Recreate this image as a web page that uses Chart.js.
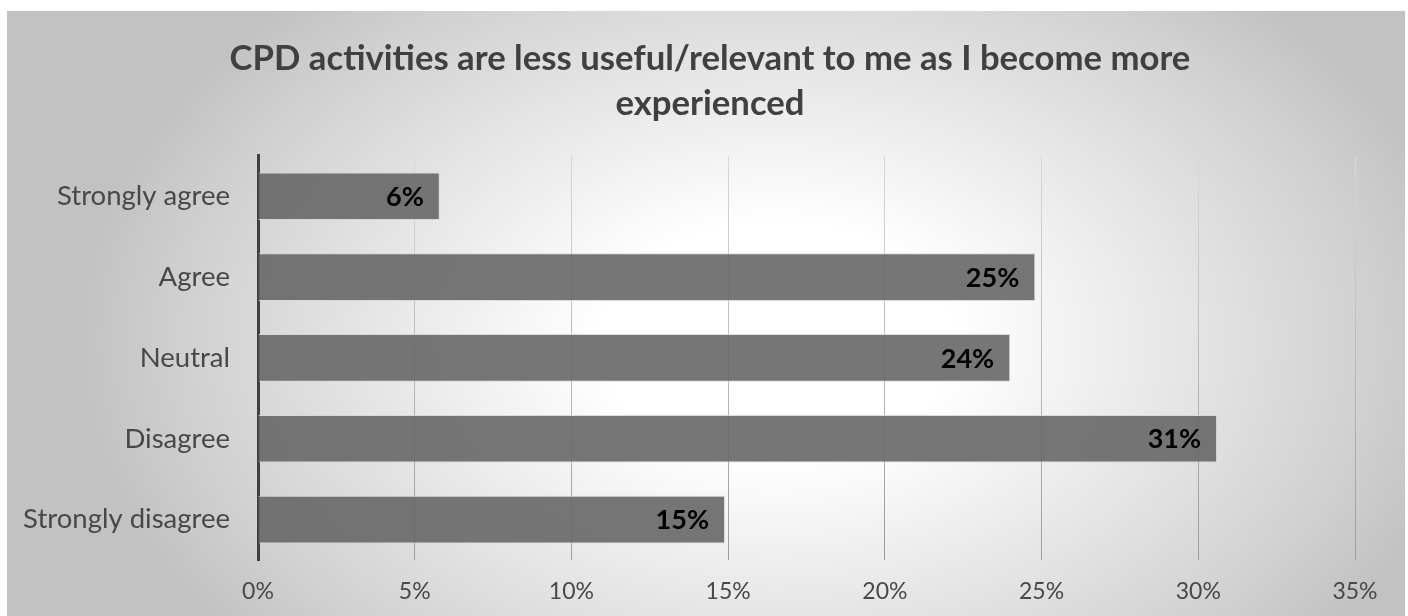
<!DOCTYPE html>
<html>
<head>
<meta charset="utf-8">
<title>CPD survey</title>
<script src="https://cdn.jsdelivr.net/npm/chart.js@4.4.0/dist/chart.umd.min.js"></script>
<style>
  html, body { margin: 0; padding: 0; background: #fff; }
  #wrap { position: absolute; left: 7px; top: 11px; width: 1398px; height: 605px; }
</style>
</head>
<body>
<div id="wrap"><canvas id="cpdChart"></canvas></div>
<script>
const categories = ['Strongly agree', 'Agree', 'Neutral', 'Disagree', 'Strongly disagree'];
const percentages = [5.8, 24.8, 24.0, 30.6, 14.9];
const tickValues = [0, 5, 10, 15, 20, 25, 30, 35];
const chartTitle = ['CPD activities are less useful/relevant to me as I become more', 'experienced'];

const FONT = 'Lato, "Open Sans", sans-serif';

// soft radial shading behind the whole chart
const backgroundShade = {
    id: 'backgroundShade',
    beforeDraw(chart) {
        const { ctx, width, height } = chart;
        const cx = 770, cy = 330, rx = 700, ry = 470;
        ctx.save();
        ctx.translate(cx, cy);
        ctx.scale(1, ry / rx);
        const g = ctx.createRadialGradient(0, 0, 0, 0, 0, rx);
        g.addColorStop(0, '#ffffff');
        g.addColorStop(0.25, '#ffffff');
        g.addColorStop(0.6, '#e4e4e4');
        g.addColorStop(0.85, '#d0d0d0');
        g.addColorStop(1, '#c2c2c2');
        ctx.fillStyle = g;
        ctx.fillRect(-cx, -cy * rx / ry, width, height * rx / ry);
        ctx.restore();
    }
};

// the title box stops at the right padding; widen it on the left so the text sits mid-chart
const titleCentre = {
    id: 'titleCentre',
    afterLayout(chart) {
        if (chart.titleBlock) chart.titleBlock.left = 58;
    }
};

// percentage written inside the end of each bar
const valueLabels = {
    id: 'valueLabels',
    afterDatasetsDraw(chart) {
        const { ctx } = chart;
        const meta = chart.getDatasetMeta(0);
        ctx.save();
        ctx.font = 'bold 27px ' + FONT;
        ctx.fillStyle = '#000';
        ctx.textAlign = 'right';
        ctx.textBaseline = 'middle';
        meta.data.forEach((bar, i) => {
            ctx.fillText(Math.round(percentages[i]) + '%', bar.x - 16, bar.y + 1);
        });
        ctx.restore();
    }
};

function gridShade(c) {
    const area = c.chart.chartArea;
    if (!area) return '#bbbbbb';
    const g = c.chart.ctx.createLinearGradient(0, area.top, 0, area.bottom);
    g.addColorStop(0, '#d8d8d8');
    g.addColorStop(1, '#9c9c9c');
    return g;
}

const ctx = document.getElementById('cpdChart').getContext('2d');
new Chart(ctx, {
    type: 'bar',
    data: {
        labels: categories,
        datasets: [{
            data: percentages,
            backgroundColor: 'rgba(103,103,103,0.9)',
            borderColor: 'rgba(215,215,215,0.9)',
            borderWidth: 1,
            barPercentage: 0.59,
            categoryPercentage: 1.0
        }]
    },
    options: {
        indexAxis: 'y',
        responsive: true,
        maintainAspectRatio: false,
        animation: false,
        layout: { padding: { left: 0, right: 50, top: 0, bottom: 0 } },
        plugins: {
            legend: { display: false },
            tooltip: { enabled: false },
            title: {
                display: true,
                text: chartTitle,
                color: '#404040',
                font: { family: FONT, size: 34.7, weight: 'bold', lineHeight: 1.28 },
                padding: { top: 26, bottom: 30 }
            }
        },
        scales: {
            x: {
                min: 0,
                max: 35,
                afterBuildTicks: (scale) => { scale.ticks = tickValues.map(v => ({ value: v })); },
                afterFit: (scale) => { scale.height = 56; },
                ticks: {
                    callback: (v) => v + '%',
                    color: '#484848',
                    padding: 18,
                    font: { family: FONT, size: 23 }
                },
                grid: { color: gridShade, lineWidth: 1, drawTicks: false },
                border: { display: false }
            },
            y: {
                afterFit: (scale) => { scale.width = 251; },
                ticks: {
                    color: '#484848',
                    padding: 28,
                    font: { family: FONT, size: 27.5 }
                },
                grid: { display: false, drawTicks: false },
                border: { display: true, color: '#404040', width: 3 }
            }
        }
    },
    plugins: [backgroundShade, titleCentre, valueLabels]
});
</script>
</body>
</html>
